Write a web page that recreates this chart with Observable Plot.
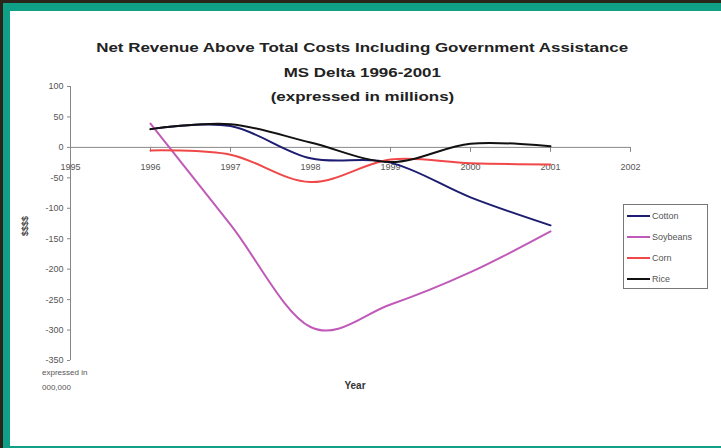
<!DOCTYPE html>
<html><head><meta charset="utf-8">
<script src="https://cdn.jsdelivr.net/npm/d3@7"></script>
<script src="https://cdn.jsdelivr.net/npm/@observablehq/plot@0.6"></script>
<style>
html,body{margin:0;padding:0;background:#2b241a;overflow:hidden;}
#page{position:relative;width:100vw;min-width:721px;height:448px;overflow:hidden;font-family:"Liberation Sans",Arial,sans-serif;}
#panel{position:absolute;left:3px;top:3px;right:0;height:445px;box-sizing:border-box;background:#fff;border-top:8px solid #10a088;border-left:7px solid #10a088;border-bottom:2px solid #10a088;}
#title{position:absolute;left:0;width:724px;top:36px;text-align:center;font-weight:bold;font-size:13px;line-height:24.5px;color:#222;}
#title span{display:inline-block;white-space:nowrap;}
#chart{position:absolute;left:0;top:80px;}
.note{position:absolute;color:#555;font-size:8px;white-space:nowrap;}
#ylab{position:absolute;left:25px;top:226px;transform:translate(-50%,-50%) rotate(-90deg);font-size:9px;font-weight:bold;color:#444;}
#xlab{position:absolute;left:355px;top:385px;transform:translate(-50%,-50%);font-size:10px;font-weight:bold;color:#333;}
#legend{position:absolute;left:623px;top:204px;width:85px;height:85px;box-sizing:border-box;border:1px solid #777;background:#fff;}
.item{position:absolute;left:3px;height:12px;display:flex;align-items:center;font-size:9px;color:#555;}
.sw{width:23px;height:2px;margin-right:2px;}
</style></head>
<body><div id="page"><div id="panel"></div>
<div id="title"><span>Net Revenue Above Total Costs Including Government Assistance</span><br><span>MS Delta 1996-2001</span><br><span>(expressed in millions)</span></div>
<div id="chart"></div>
<div id="ylab">$$$$</div>
<div id="xlab">Year</div>
<div class="note" style="left:42px;top:368px;">expressed in</div>
<div class="note" style="left:42px;top:383px;">000,000</div>
<div id="legend"></div>
</div>
<script>
const years = [1996, 1997, 1998, 1999, 2000, 2001];
const cotton = [30, 35, -18, -25, -82, -128];
const soybeans = [39, -127, -295, -258, -205, -138];
const corn = [-5, -12, -57, -20, -26, -28];
const rice = [30, 38, 8, -24, 6, 2];
const crops = ["Cotton", "Soybeans", "Corn", "Rice"];
const colors = ["#1c1c70", "#c05ab8", "#f04848", "#111111"];
const axisYears = [1995, 1996, 1997, 1998, 1999, 2000, 2001, 2002];
const yTicks = [-350, -300, -250, -200, -150, -100, -50, 0, 50, 100];

const seriesValues = [cotton, soybeans, corn, rice];
const rows = [];
crops.forEach((c, k) => years.forEach((y, i) => rows.push({crop: c, year: y, value: seriesValues[k][i]})));

const plot = Plot.plot({
  width: 721, height: 330,
  marginLeft: 70, marginRight: 91, marginTop: 6, marginBottom: 50,
  style: {fontFamily: '"Liberation Sans", Arial, sans-serif', background: "transparent", color: "#444"},
  x: {domain: [1995, 2002], axis: null},
  y: {domain: [-350, 100], axis: null},
  color: {domain: crops, range: colors},
  marks: [
    Plot.ruleY([0], {stroke: "#888"}),
    Plot.ruleX([1995], {stroke: "#888"}),
    Plot.ruleX(axisYears, {x: d => d, y1: 0, y2: 0, insetBottom: -5, stroke: "#888"}),
    Plot.text(axisYears, {x: d => d, y: 0, dy: 20, text: d => String(d), fontSize: 9, fill: "#555"}),
    Plot.axisY({ticks: yTicks, tickSize: 3, tickPadding: 4, fontSize: 9, label: null, tickFormat: d => String(d), stroke: "#888", fill: "#555"}),
    Plot.line(rows, {x: "year", y: "value", z: "crop", stroke: "crop", curve: "cardinal", strokeWidth: 2})
  ]
});
document.getElementById("chart").appendChild(plot);

const lg = document.getElementById("legend");
crops.forEach((c, i) => {
  const it = document.createElement("div");
  it.className = "item";
  it.style.top = (5 + i * 21) + "px";
  it.innerHTML = `<div class="sw" style="background:${colors[i]}"></div><span>${c}</span>`;
  lg.appendChild(it);
});

const spans = document.querySelectorAll("#title span");
const w = spans[0].getBoundingClientRect().width;
const s = 532 / w;
spans.forEach(sp => sp.style.transform = `scaleX(${s})`);
</script>
</body></html>
